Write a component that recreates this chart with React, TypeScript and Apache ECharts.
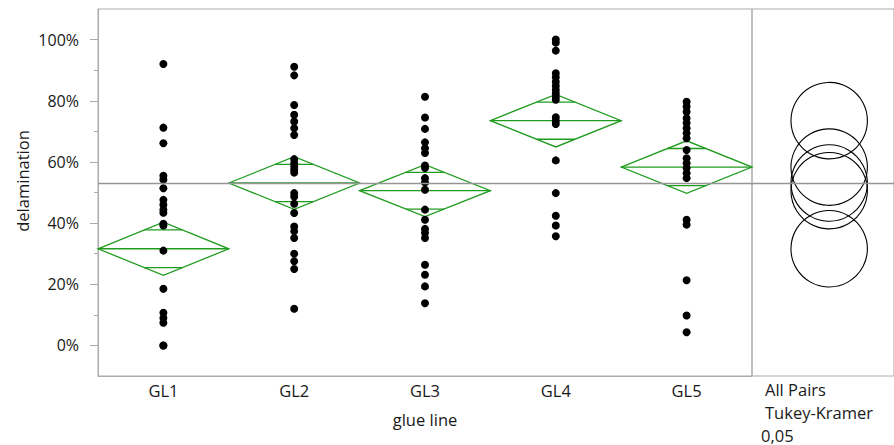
import React, { useEffect, useRef } from "react";
import * as echarts from "echarts";

const categories = ["GL1", "GL2", "GL3", "GL4", "GL5"];

const gl1 = [0.92, 0.712, 0.661, 0.555, 0.542, 0.514, 0.476, 0.46, 0.444, 0.434, 0.398, 0.392, 0.31, 0.185, 0.107, 0.09, 0.074, 0.0, 0.0];
const gl2 = [0.911, 0.883, 0.786, 0.754, 0.732, 0.71, 0.688, 0.609, 0.596, 0.585, 0.574, 0.565, 0.498, 0.487, 0.463, 0.433, 0.389, 0.373, 0.351, 0.3, 0.275, 0.25, 0.12];
const gl3 = [0.813, 0.745, 0.708, 0.664, 0.645, 0.629, 0.588, 0.58, 0.547, 0.533, 0.509, 0.444, 0.411, 0.381, 0.368, 0.351, 0.264, 0.231, 0.193, 0.138];
const gl4 = [1.0, 0.99, 0.964, 0.89, 0.877, 0.862, 0.848, 0.835, 0.824, 0.813, 0.803, 0.746, 0.735, 0.724, 0.605, 0.498, 0.424, 0.392, 0.357];
const gl5 = [0.797, 0.781, 0.764, 0.743, 0.727, 0.71, 0.694, 0.677, 0.639, 0.612, 0.596, 0.58, 0.563, 0.547, 0.411, 0.395, 0.213, 0.098, 0.043];
const groupValues = [gl1, gl2, gl3, gl4, gl5];

const groupMeans = [0.316, 0.531, 0.506, 0.735, 0.583];
const ciHalfWidths = [0.087, 0.086, 0.085, 0.086, 0.086];
const grandMean = 0.534;
const tukeyRadius = 0.125;

const yMin = -0.1;
const yMax = 1.1;
const majorTicks = [0, 0.2, 0.4, 0.6, 0.8, 1.0];
const minorTicks = [0.1, 0.3, 0.5, 0.7, 0.9];

const FONT = "Open Sans";
const AXIS_GRAY = "#ababab";
const GREEN = "#1f9c1f";
const TEXT = "#1a1a1a";

export default function App() {
  const ref = useRef<HTMLDivElement>(null);
  useEffect(() => {
    if (!ref.current) return;
    const chart = echarts.init(ref.current, undefined, { renderer: "svg" });

    const points: number[][] = [];
    groupValues.forEach((vals, i) => vals.forEach((v) => points.push([i, v])));

    const meanLine = {
      silent: true,
      symbol: "none",
      label: { show: false },
      lineStyle: { color: "#969696", width: 1.3, type: "solid", opacity: 1 },
      data: [{ yAxis: grandMean }],
    };

    const option: any = {
      animation: false,
      textStyle: { fontFamily: FONT },
      grid: [
        { left: 98, right: 142, top: 9, bottom: 69, show: true, borderColor: AXIS_GRAY, borderWidth: 1 },
        { left: 752, right: 0, top: 9, bottom: 69, show: true, borderColor: AXIS_GRAY, borderWidth: 1 },
      ],
      xAxis: [
        {
          type: "category",
          gridIndex: 0,
          data: categories,
          axisLine: { onZero: false, lineStyle: { color: AXIS_GRAY } },
          axisTick: { length: 6, lineStyle: { color: AXIS_GRAY } },
          axisLabel: { fontSize: 16.5, color: TEXT, margin: 6, fontFamily: FONT },
          name: "glue line",
          nameLocation: "middle",
          nameGap: 35,
          nameTextStyle: { fontSize: 16.5, color: TEXT, fontFamily: FONT },
          splitLine: { show: false },
        },
        { type: "value", gridIndex: 1, min: 0, max: 0.92, show: false },
      ],
      yAxis: [
        {
          type: "value",
          gridIndex: 0,
          position: "left",
          min: yMin,
          max: yMax,
          axisLine: { show: true, lineStyle: { color: AXIS_GRAY } },
          axisTick: { show: true, length: 8, customValues: majorTicks, lineStyle: { color: AXIS_GRAY } },
          axisLabel: {
            customValues: majorTicks,
            fontSize: 16,
            color: TEXT,
            margin: 19,
            fontFamily: FONT,
            formatter: (v: number) => Math.round(v * 100) + "%",
          },
          splitLine: { show: false },
        },
        {
          type: "value",
          gridIndex: 0,
          position: "left",
          min: yMin,
          max: yMax,
          axisLine: { show: false },
          axisTick: { show: true, length: 4, customValues: minorTicks, lineStyle: { color: AXIS_GRAY } },
          axisLabel: { show: false },
          splitLine: { show: false },
        },
        { type: "value", gridIndex: 1, min: yMin, max: yMax, show: false },
      ],
      graphic: [
        {
          type: "text",
          x: 22,
          y: 181,
          rotation: Math.PI / 2,
          style: { text: "delamination", fontSize: 16.5, fill: TEXT, fontFamily: FONT, textAlign: "center", textVerticalAlign: "middle" },
        },
        { type: "text", x: 765, y: 389, style: { text: "All Pairs", fontSize: 16.5, fill: TEXT, fontFamily: FONT, textVerticalAlign: "middle" } },
        { type: "text", x: 765, y: 412, style: { text: "Tukey-Kramer", fontSize: 16.5, fill: TEXT, fontFamily: FONT, textVerticalAlign: "middle" } },
        { type: "text", x: 761, y: 435, style: { text: "0,05", fontSize: 16.5, fill: TEXT, fontFamily: FONT, textVerticalAlign: "middle" } },
      ],
      series: [
        {
          type: "custom",
          xAxisIndex: 0,
          yAxisIndex: 0,
          z: 2,
          encode: { x: 0, y: 1 },
          data: categories.map((_, i) => [i, groupMeans[i], ciHalfWidths[i]]),
          renderItem: (params: any, api: any) => {
            const c = api.coord([api.value(0), api.value(1)]);
            const bw = api.size([1, 0])[0];
            const hw = bw / 2;
            const h = api.size([0, api.value(2)])[1];
            const d = h / Math.SQRT2;
            const ow = hw * (1 - 1 / Math.SQRT2);
            const style = { stroke: GREEN, fill: "none", lineWidth: 1.3 };
            return {
              type: "group",
              children: [
                { type: "polygon", shape: { points: [[c[0] - hw, c[1]], [c[0], c[1] - h], [c[0] + hw, c[1]], [c[0], c[1] + h]] }, style },
                { type: "line", shape: { x1: c[0] - hw, y1: c[1], x2: c[0] + hw, y2: c[1] }, style },
                { type: "line", shape: { x1: c[0] - ow, y1: c[1] - d, x2: c[0] + ow, y2: c[1] - d }, style },
                { type: "line", shape: { x1: c[0] - ow, y1: c[1] + d, x2: c[0] + ow, y2: c[1] + d }, style },
              ],
            };
          },
        },
        {
          type: "scatter",
          xAxisIndex: 0,
          yAxisIndex: 0,
          z: 3,
          symbol: "circle",
          symbolSize: 8,
          itemStyle: { color: "#000", opacity: 1 },
          data: points,
          markLine: meanLine,
        },
        {
          type: "custom",
          xAxisIndex: 1,
          yAxisIndex: 2,
          encode: { x: 0, y: 1 },
          data: groupMeans.map((m) => [0.5, m, tukeyRadius]),
          renderItem: (params: any, api: any) => {
            const c = api.coord([api.value(0), api.value(1)]);
            const r = api.size([0, api.value(2)], [api.value(0), api.value(1)])[1];
            return { type: "circle", shape: { cx: c[0], cy: c[1], r }, style: { stroke: "#000", fill: "none", lineWidth: 1.1 } };
          },
          markLine: meanLine,
        },
      ],
    };
    chart.setOption(option);
    return () => chart.dispose();
  }, []);
  return <div ref={ref} style={{ position: "fixed", left: 0, top: 0, width: 894, height: 445, background: "#fff" }} />;
}
